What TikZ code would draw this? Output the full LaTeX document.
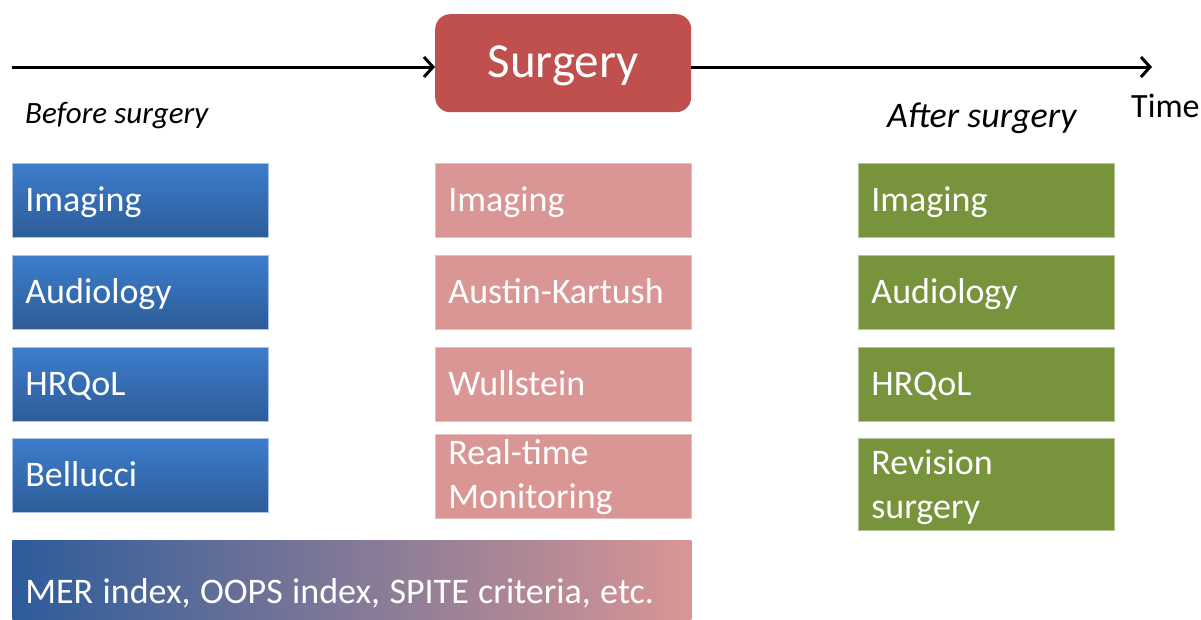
\documentclass[tikz,border=0pt]{standalone}
\usepackage{fontspec}
\setmainfont{Carlito}
\usetikzlibrary{arrows.meta}

\definecolor{pretop}{HTML}{3C7DCC}
\definecolor{prebot}{HTML}{2E5C98}
\definecolor{intra}{HTML}{D99694}
\definecolor{post}{HTML}{77933C}
\definecolor{surg}{HTML}{C0504D}
\definecolor{barleft}{HTML}{2C5C9B}

\tikzset{
	item/.style={anchor=north west, text width=230pt, text height=48.5pt, text depth=25.5pt,
		inner xsep=13pt, inner ysep=0pt, align=left, text=white, line width=0.8pt,
		font=\fontsize{36}{44}\selectfont},
	before/.style={item, top color=pretop, bottom color=prebot, draw=pretop!45!white},
	during/.style={item, fill=intra, draw=intra!60!white},
	after/.style={item, fill=post, draw=post!55!white},
	phase/.style={anchor=base west, inner sep=0pt, font=\fontsize{#1}{40}\selectfont\itshape},
	timeline/.style={line width=3pt, -{Straight Barb[length=9pt,width=20pt,line width=3pt]}}
}

\begin{document}
\begin{tikzpicture}[x=1pt,y=-1pt]
	\useasboundingbox (0,0) rectangle (1201,619);

	% the operation in the middle of the time axis
	\node (surgery) [anchor=north west, rounded corners=15pt, fill=surg, text=white,
		minimum width=256pt, text height=63pt, text depth=35pt, inner ysep=0pt,
		font=\fontsize{49}{50}\selectfont] at (435,14) {Surgery};

	\coordinate (t0) at (12,67);
	\coordinate (t1) at (1152,67);
	\draw[timeline] (t0) -- (t0 -| surgery.west);
	\draw[timeline] (t0 -| surgery.east) -- (t1);

	\node (pre) [phase=31] at (25,123) {Before surgery};
	\node (postop) [phase=36] at (887,127) {After surgery};
	\node (time) [anchor=base west, inner sep=0pt, font=\fontsize{34}{40}\selectfont] at (1131,117) {Time};

	% before surgery
	\node (pre1) [before] at (12,163) {Imaging};
	\node (pre2) [before] at (12,255) {Audiology};
	\node (pre3) [before] at (12,347) {HRQoL};
	\node (pre4) [before] at (12,438) {Bellucci};

	% during surgery
	\node (op1) [during] at (435,163) {Imaging};
	\node (op2) [during] at (435,255) {Austin-Kartush};
	\node (op3) [during] at (435,347) {Wullstein};
	\node (op4) [during, text height=30pt, text depth=54pt] at (435,434) {Real-time\\Monitoring};

	% after surgery
	\node (post1) [after] at (858,163) {Imaging};
	\node (post2) [after] at (858,255) {Audiology};
	\node (post3) [after] at (858,347) {HRQoL};
	\node (post4) [after, text height=36pt, text depth=56pt] at (858,438) {Revision\\surgery};

	% staging systems across both columns
	\node (scores) [item, text width=653pt, text height=63pt, text depth=16pt, draw=none,
		left color=barleft, right color=intra] at (12,540)
		{\spaceskip=0.26em MER index, OOPS index, SPITE criteria, etc.};
\end{tikzpicture}
\end{document}
